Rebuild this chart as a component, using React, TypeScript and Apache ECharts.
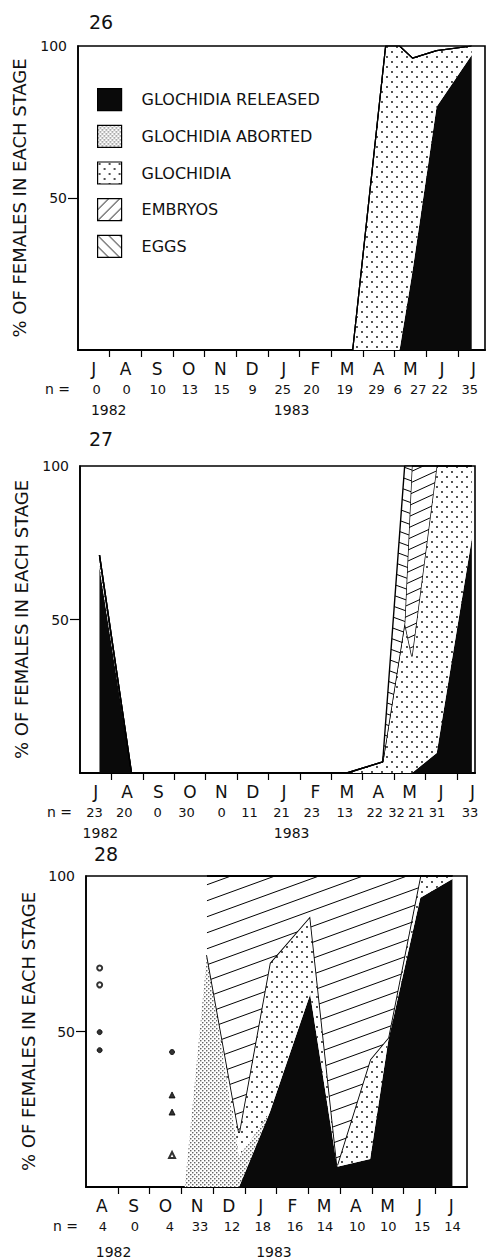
import React, { useEffect, useRef } from 'react';
import * as echarts from 'echarts';

const FONT = 'DejaVu Sans';
const STAGES = ['GLOCHIDIA RELEASED', 'GLOCHIDIA ABORTED', 'GLOCHIDIA', 'EMBRYOS', 'EGGS'];
const Y_NAME = '% OF FEMALES IN EACH STAGE';

// ---------- Panel 26 ----------
const months26 = ['J', 'A', 'S', 'O', 'N', 'D', 'J', 'F', 'M', 'A', 'M', 'J', 'J'];
const nCounts26 = [0, 0, 10, 13, 15, 9, 25, 20, 19, 29, 6, 27, 22, 35];
const nPos26 = [0.59, 1.54, 2.52, 3.53, 4.54, 5.52, 6.47, 7.38, 8.43, 9.43, 10.1, 10.75, 11.43, 12.38];
const years26 = ['1982', '1983'];
const yearPos26 = [0.97, 6.75];
const sampleX26 = [2.52, 3.53, 4.54, 5.52, 6.47, 7.38, 8.68, 9.72, 10.16, 10.57, 11.33, 12.44];
const released26 = [0, 0, 0, 0, 0, 0, 0, 0, 0, 26, 80, 97];
const aborted26 = [0, 0, 0, 0, 0, 0, 0, 0, 0, 0, 0, 0];
const glochidia26 = [0, 0, 0, 0, 0, 0, 0, 100, 100, 70, 18.5, 3];
const embryos26 = [0, 0, 0, 0, 0, 0, 0, 0, 0, 0, 0, 0];
const eggs26 = [0, 0, 0, 0, 0, 0, 0, 0, 0, 0, 0, 0];

// ---------- Panel 27 ----------
const months27 = ['J', 'A', 'S', 'O', 'N', 'D', 'J', 'F', 'M', 'A', 'M', 'J', 'J'];
const nCounts27 = [23, 20, 0, 30, 0, 11, 21, 23, 13, 22, 32, 21, 31, 33];
const nPos27 = [0.46, 1.41, 2.47, 3.39, 4.51, 5.4, 6.42, 7.38, 8.43, 9.39, 10.08, 10.71, 11.37, 12.42];
const years27 = ['1982', '1983'];
const yearPos27 = [0.65, 6.74];
const sampleX27 = [0.62, 1.64, 3.39, 5.4, 6.42, 7.38, 8.5, 9.64, 10.34, 10.57, 11.36, 12.48];
const released27 = [67, 0, 0, 0, 0, 0, 0, 0, 0, 0, 6.5, 76.5];
const aborted27 = [4, 0, 0, 0, 0, 0, 0, 0, 0, 0, 0, 0];
const glochidia27 = [0, 0, 0, 0, 0, 0, 0, 3.6, 49, 38, 93.5, 23.5];
const embryos27 = [0, 0, 0, 0, 0, 0, 0, 0, 0, 62, 0, 0];
const eggs27 = [0, 0, 0, 0, 0, 0, 0, 0, 51, 0, 0, 0];

// ---------- Panel 28 ----------
const months28 = ['A', 'S', 'O', 'N', 'D', 'J', 'F', 'M', 'A', 'M', 'J', 'J'];
const nCounts28 = [4, 0, 4, 33, 12, 18, 16, 14, 10, 10, 15, 14];
const nPos28 = [0.53, 1.54, 2.64, 3.59, 4.6, 5.57, 6.58, 7.53, 8.54, 9.52, 10.59, 11.54];
const years28 = ['1982', '1983'];
const yearPos28 = [0.87, 5.92];
const sampleX28 = [3.11, 3.81, 4.82, 5.79, 7.06, 7.91, 8.95, 9.52, 10.53, 11.54];
const released28 = [0, 0, 0, 24, 62, 6.5, 9, 47, 93, 99];
const aborted28 = [0, 74.6, 10, 0, 0, 0, 0, 0, 0, 0];
const glochidia28 = [null, 0, 7.4, 48, 25, 0.5, 32, 1, 7, 1];
const embryos28 = [null, 25.4, 82.6, 28, 13, 93, 59, 52, 0, 0];
const eggs28 = [null, 0, 0, 0, 0, 0, 0, 0, 0, 0];
// individual females (small samples) shown as symbols
const openCircle28 = [[0.43, 70.4], [0.43, 65]];
const filledCircle28 = [[0.43, 49.8], [0.43, 44], [2.71, 43.4]];
const filledTriangle28 = [[2.71, 29.6], [2.71, 24.1]];
const openTriangle28 = [[2.71, 10.3]];

type Pat = any;

function tile(w: number, h: number, draw: (ctx: CanvasRenderingContext2D) => void): Pat {
  const c = document.createElement('canvas');
  c.width = w;
  c.height = h;
  const ctx = c.getContext('2d')!;
  ctx.fillStyle = '#ffffff';
  ctx.fillRect(0, 0, w, h);
  draw(ctx);
  return { image: c, repeat: 'repeat', imageWidth: w, imageHeight: h };
}

function hatch(w: number, h: number, dir: number, lw: number): Pat {
  return tile(w, h, (ctx) => {
    ctx.strokeStyle = '#000';
    ctx.lineWidth = lw;
    ctx.beginPath();
    for (const off of [-h, 0, h]) {
      if (dir > 0) {
        ctx.moveTo(0, h + off);
        ctx.lineTo(w, off);
      } else {
        ctx.moveTo(0, off);
        ctx.lineTo(w, h + off);
      }
    }
    ctx.stroke();
  });
}

function dots(w: number, h: number, pts: number[][], r: number, color: string): Pat {
  return tile(w, h, (ctx) => {
    ctx.fillStyle = color;
    for (const p of pts) {
      ctx.beginPath();
      ctx.arc(p[0], p[1], r, 0, Math.PI * 2);
      ctx.fill();
    }
  });
}

function nearestIndex(arr: number[], v: number) {
  let best = 0;
  for (let i = 1; i < arr.length; i++) if (Math.abs(arr[i] - v) < Math.abs(arr[best] - v)) best = i;
  return best;
}

interface Panel {
  title: string;
  titleTop: number;
  titleLeft: number;
  left: number;
  top: number;
  width: number;
  height: number;
  xMax: number;
  months: string[];
  nCounts: number[];
  nPos: number[];
  years: string[];
  yearPos: number[];
  sampleX: number[];
  stacks: (number | null)[][];
  nameGap: number;
  hatchEmb: Pat;
  hatchEgg: Pat;
  topLine: number;
}

export default function App() {
  const ref = useRef<HTMLDivElement>(null);

  useEffect(() => {
    document.body.style.margin = '0';
    if (!ref.current) return;
    const chart = echarts.init(ref.current, null, { renderer: 'svg' });

    const black = '#0a0a0a';
    const aborted = dots(4, 4, [[0.8, 0.8], [2.8, 2.8]], 0.7, '#333');
    const gloch = dots(10, 10, [[2, 2], [7, 7]], 0.9, '#000');
    const legEmb = hatch(11, 11, 1, 1);
    const legEgg = hatch(11, 11, -1, 1);
    const pats0 = [black, aborted, gloch];

    const panels: Panel[] = [
      {
        title: '26', titleTop: 12, titleLeft: 89, left: 78, top: 46, width: 407, height: 304, xMax: 12.86,
        months: months26, nCounts: nCounts26, nPos: nPos26, years: years26, yearPos: yearPos26,
        sampleX: sampleX26, stacks: [released26, aborted26, glochidia26, embryos26, eggs26],
        nameGap: 50, hatchEmb: hatch(24, 11, 1, 1), hatchEgg: hatch(24, 11, -1, 1), topLine: 1.2,
      },
      {
        title: '27', titleTop: 429, titleLeft: 89, left: 80, top: 466, width: 395, height: 307, xMax: 12.58,
        months: months27, nCounts: nCounts27, nPos: nPos27, years: years27, yearPos: yearPos27,
        sampleX: sampleX27, stacks: [released27, aborted27, glochidia27, embryos27, eggs27],
        nameGap: 50, hatchEmb: hatch(24, 11, 1, 1), hatchEgg: hatch(30, 11, -1, 1), topLine: 1.4,
      },
      {
        title: '28', titleTop: 844, titleLeft: 94, left: 86, top: 876, width: 381, height: 311, xMax: 12.0,
        months: months28, nCounts: nCounts28, nPos: nPos28, years: years28, yearPos: yearPos28,
        sampleX: sampleX28, stacks: [released28, aborted28, glochidia28, embryos28, eggs28],
        nameGap: 46, hatchEmb: hatch(44, 16, 1, 1), hatchEgg: hatch(44, 16, -1, 1), topLine: 1.8,
      },
    ];

    const grid: any[] = [];
    const xAxis: any[] = [];
    const yAxis: any[] = [];
    const series: any[] = [];
    const title: any[] = [];
    const txt = { fontFamily: FONT, color: '#111' };

    panels.forEach((p, gi) => {
      title.push({
        text: p.title, left: p.titleLeft, top: p.titleTop, padding: 0,
        textStyle: { ...txt, fontSize: 19, fontWeight: 'normal' },
      });
      grid.push({
        left: p.left, top: p.top, width: p.width, height: p.height,
        show: true, borderColor: '#000', borderWidth: 1.6, backgroundColor: 'transparent',
      });
      const ticks: number[] = [];
      for (let i = 1; i < p.months.length; i++) ticks.push(i);
      const centers = p.months.map((_, i) => i + 0.5);
      xAxis.push({
        type: 'value', gridIndex: gi, min: 0, max: p.xMax, position: 'bottom',
        axisLine: { show: true, lineStyle: { color: '#000', width: 2 } },
        axisTick: { show: true, customValues: ticks, length: 7, lineStyle: { color: '#000', width: 1.2 } },
        axisLabel: {
          customValues: centers, formatter: (v: number) => p.months[Math.floor(v)],
          margin: 19, verticalAlign: 'middle', fontSize: 17, ...txt,
        },
        splitLine: { show: false },
      });
      xAxis.push({
        type: 'value', gridIndex: gi, min: 0, max: p.xMax, position: 'bottom', offset: 39,
        axisLine: { show: false }, axisTick: { show: false }, splitLine: { show: false },
        axisLabel: {
          customValues: p.nPos, formatter: (v: number) => String(p.nCounts[nearestIndex(p.nPos, v)]),
          margin: 0, verticalAlign: 'middle', fontSize: 13, ...txt,
        },
        name: 'n =', nameLocation: 'start', nameGap: 8,
        nameTextStyle: { fontSize: 14, ...txt, verticalAlign: 'middle' },
      });
      xAxis.push({
        type: 'value', gridIndex: gi, min: 0, max: p.xMax, position: 'bottom', offset: gi === 2 ? 65 : 60,
        axisLine: { show: false }, axisTick: { show: false }, splitLine: { show: false },
        axisLabel: {
          customValues: p.yearPos, formatter: (v: number) => p.years[nearestIndex(p.yearPos, v)],
          margin: 0, verticalAlign: 'middle', fontSize: 14, ...txt,
        },
      });
      yAxis.push({
        type: 'value', gridIndex: gi, min: 0, max: 100, interval: 50,
        axisLine: { show: true, lineStyle: { color: '#000', width: 1.6 } },
        axisTick: { show: true, customValues: [50], length: 10, lineStyle: { color: '#000', width: 1.2 } },
        axisLabel: { customValues: [50, 100], margin: 11, fontSize: 14, ...txt },
        splitLine: { show: false },
        name: Y_NAME, nameLocation: 'middle', nameRotate: 90, nameGap: p.nameGap,
        nameTextStyle: { fontSize: 18, ...txt },
      });
      const pats = [...pats0, p.hatchEmb, p.hatchEgg];
      STAGES.forEach((name, k) => {
        const vals = p.stacks[k];
        series.push({
          type: 'line', name, xAxisIndex: gi * 3, yAxisIndex: gi, stack: 'panel' + gi,
          // value first so that the percentage (not the date) is the stacked dimension
          data: p.sampleX.map((x, i) => [vals[i], x]),
          encode: { x: 1, y: 0 },
          showSymbol: false, symbol: 'none', connectNulls: false,
          lineStyle: { color: '#000', width: k < 2 ? 0 : p.topLine, opacity: k < 2 ? 0 : 1 },
          areaStyle: { color: pats[k], opacity: 1 },
          itemStyle: { color: k === 0 ? black : '#000' },
          emphasis: { disabled: true },
          z: 2 + k,
        });
      });
    });

    const sc = (data: number[][], symbol: string, size: number) => ({
      type: 'scatter', xAxisIndex: 6, yAxisIndex: 2, data, symbol, symbolSize: size,
      itemStyle: { color: '#000', borderColor: '#000', borderWidth: 1 },
      emphasis: { disabled: true }, z: 10,
    });
    series.push(sc(openCircle28, 'emptyCircle', 5));
    series.push(sc(filledCircle28, 'circle', 5));
    series.push(sc(filledTriangle28, 'triangle', 6));
    series.push(sc(openTriangle28, 'emptyTriangle', 6));

    const legendPats = [black, aborted, gloch, legEmb, legEgg];
    chart.setOption({
      animation: false,
      backgroundColor: '#ffffff',
      title,
      grid,
      xAxis,
      yAxis,
      series,
      legend: {
        orient: 'vertical', left: 97, top: 88, itemWidth: 24, itemHeight: 22, itemGap: 13.5,
        selectedMode: false, padding: 0,
        textStyle: { fontFamily: FONT, color: '#111', fontSize: 16, padding: [0, 0, 0, 15] },
        data: STAGES.map((name, i) => ({
          name, icon: 'rect',
          itemStyle: { color: legendPats[i], borderColor: '#000', borderWidth: 1.2 },
        })),
      },
    });
    return () => chart.dispose();
  }, []);

  return <div ref={ref} style={{ width: 486, height: 1260 }} />;
}
